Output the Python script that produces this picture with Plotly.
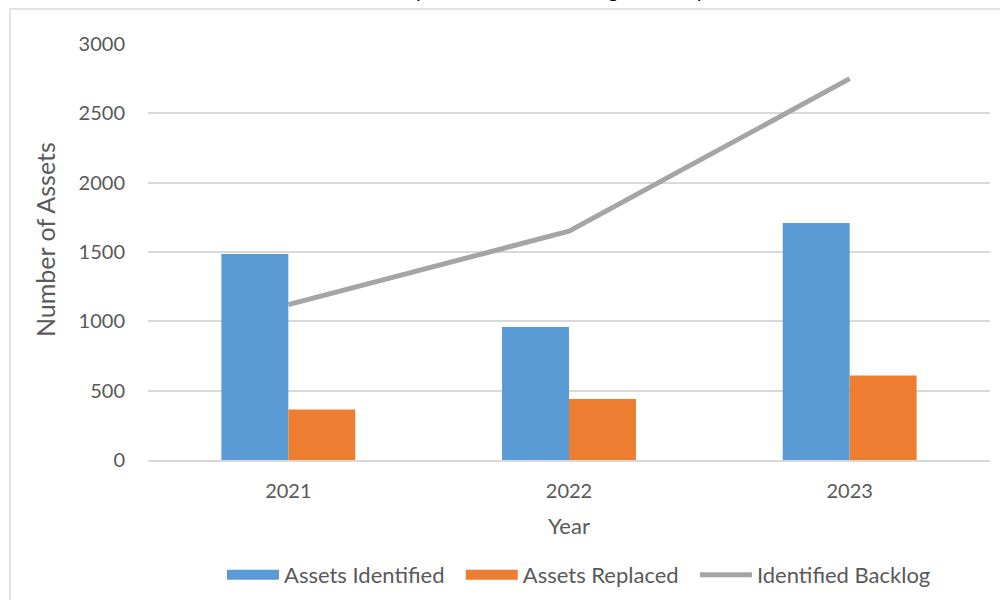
import plotly.graph_objects as go

years = ["2021", "2022", "2023"]
assets_identified = [1485, 960, 1710]
assets_replaced = [365, 440, 610]
identified_backlog = [1120, 1650, 2750]
y_ticks = [0, 500, 1000, 1500, 2000, 2500, 3000]
title_text = "Asset Replacement and Backlog Summary"

FONT = "Lato, Arial, sans-serif"
TXT = "#595959"
BLUE, ORANGE, GREY = "#5B9BD5", "#ED7D31", "#A5A5A5"
PAD = "\u00a0\u00a0"

fig = go.Figure()
fig.add_trace(go.Bar(x=years, y=assets_identified, name="Assets Identified",
                     marker=dict(color=BLUE, line=dict(width=0)), showlegend=False))
fig.add_trace(go.Bar(x=years, y=assets_replaced, name="Assets Replaced",
                     marker=dict(color=ORANGE, line=dict(width=0)), showlegend=False))
fig.add_trace(go.Scatter(x=years, y=identified_backlog, name="Identified Backlog",
                         mode="lines", line=dict(color=GREY, width=5), showlegend=False))
# legend entries (wide swatches like the reference)
for nm, col, w in [("Assets Identified" + PAD, BLUE, 15), ("Assets Replaced" + PAD, ORANGE, 15),
                   ("Identified Backlog", GREY, 5)]:
    fig.add_trace(go.Scatter(x=[None], y=[None], name=nm, mode="lines",
                             line=dict(color=col, width=w), showlegend=True))

fig.update_layout(
    width=1000, height=600,
    margin=dict(l=148, r=10, t=44, b=140, autoexpand=False),
    paper_bgcolor="white", plot_bgcolor="white",
    barmode="group", bargap=0.523, bargroupgap=0,
    font=dict(family=FONT, size=20, color=TXT),
    showlegend=True,
    legend=dict(orientation="h", x=(222 - 148) / 842, xanchor="left",
                y=(460 - 575) / 416, yanchor="middle",
                font=dict(family=FONT, size=22, color=TXT), itemwidth=52,
                traceorder="normal", bgcolor="rgba(0,0,0,0)"),
    annotations=[
        dict(text=title_text, xref="paper", yref="paper",
             x=0.445, y=(460 - 4) / 416, xanchor="center", yanchor="bottom",
             showarrow=False, font=dict(family=FONT, size=20, color="#000000")),
        dict(text="Number of Assets", xref="paper", yref="paper", textangle=-90,
             x=(45 - 148) / 842, y=(460 - 240) / 416, xanchor="center", yanchor="middle",
             showarrow=False, font=dict(family=FONT, size=25, color=TXT)),
    ],
    shapes=[dict(type="rect", xref="paper", yref="paper",
                 x0=(10 - 148) / 842, x1=1.2, y0=-0.5, y1=(460 - 9) / 416,
                 line=dict(color="#D9D9D9", width=1.5), fillcolor="rgba(0,0,0,0)",
                 layer="below")],
)
fig.update_xaxes(showgrid=False, showline=True, linecolor="#D9D9D9", linewidth=1.5,
                 ticks="", ticklabelstandoff=12, automargin=False,
                 tickfont=dict(family=FONT, size=20, color=TXT),
                 title=dict(text="Year", font=dict(family=FONT, size=22, color=TXT), standoff=18))
fig.update_yaxes(range=[0, 3000], tickvals=y_ticks, showgrid=True, gridcolor="#D9D9D9",
                 gridwidth=1.5, zeroline=False, showline=False, ticks="",
                 ticklabelstandoff=22, automargin=False,
                 tickfont=dict(family=FONT, size=20, color=TXT))

fig.write_html("out.html", config={"displayModeBar": False},
               post_script="document.body.style.margin='0';")
